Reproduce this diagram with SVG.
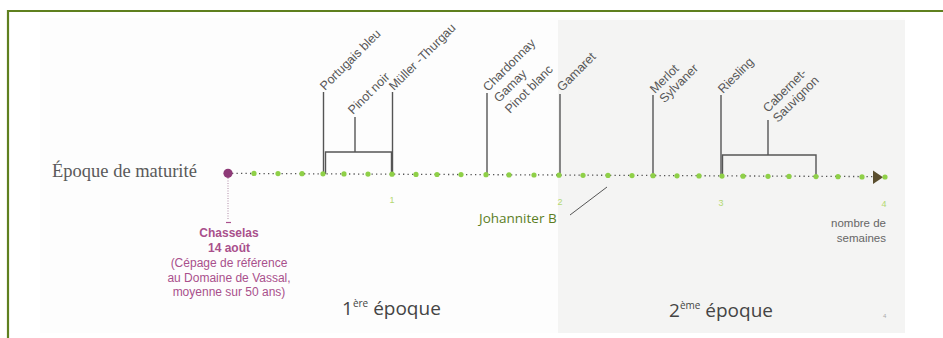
<svg xmlns="http://www.w3.org/2000/svg" width="943" height="338" viewBox="0 0 943 338">
<style>
.lbl{font-family:"Liberation Sans",Arial,sans-serif;font-size:12.5px;fill:#575757}
.ln{stroke:#555;stroke-width:1.4;fill:none}
.dot{fill:#8fd048}
.num{font-family:"Liberation Sans",Arial,sans-serif;font-size:9px;fill:#b3d872;text-anchor:middle}
.ep{font-family:"Open Sans","Liberation Sans",sans-serif;font-size:19px;fill:#444}
.ch{font-family:"Liberation Sans",Arial,sans-serif;font-size:12px;fill:#a9508c;text-anchor:middle}
</style>
<rect width="943" height="338" fill="#ffffff"/>
<g id="background">
<rect x="40" y="18" width="865" height="315" fill="#fdfdfd"/>
<rect x="558" y="20" width="347" height="313" fill="#f4f4f3"/>
</g>
<path d="M8,338 V11 H943" fill="none" stroke="#5f801f" stroke-width="2.2"/>

<g id="axis-title"><text x="52" y="177" font-family="Liberation Serif,'Times New Roman',serif" font-size="18.5" fill="#5a5a5a">Époque de maturité</text></g>

<g id="connectors">
<line x1="232" y1="173.4" x2="873" y2="176.6" stroke="#555" stroke-width="1.3" stroke-dasharray="1.3 3.2"/>
<polygon points="873,170.5 883,177.3 873,184" fill="#5a4e2e"/>
<line x1="228" y1="178" x2="228" y2="220" stroke="#b08aa5" stroke-width="1" stroke-dasharray="1 1.5"/>
<line x1="226" y1="222.5" x2="231" y2="222.5" stroke="#a9508c" stroke-width="1.2"/>
<path class="ln" d="M323.5,92 V174"/>
<path class="ln" d="M325.5,174 V152 H391.5 V174"/>
<path class="ln" d="M355,152 V117"/>
<path class="ln" d="M392.5,92 V174"/>
<path class="ln" d="M487,93 V174.7"/>
<path class="ln" d="M560,94 V175.2"/>
<path class="ln" d="M653,95 V175.7"/>
<path class="ln" d="M721,95 V176.1"/>
<path class="ln" d="M722.5,176 V155 H816 V176.6"/>
<path class="ln" d="M768,155 V120"/>
<line x1="570" y1="215" x2="607" y2="187" stroke="#555" stroke-width="1"/>
</g>

<g id="dots">
<circle cx="228" cy="173.3" r="4.6" fill="#8e3a78"/>
<circle class="dot" cx="254" cy="173.4" r="2.6"/>
<circle class="dot" cx="278" cy="173.6" r="2.6"/>
<circle class="dot" cx="302" cy="173.7" r="2.6"/>
<circle class="dot" cx="323" cy="173.8" r="2.6"/>
<circle class="dot" cx="344" cy="173.9" r="2.6"/>
<circle class="dot" cx="368" cy="174.1" r="2.6"/>
<circle class="dot" cx="392" cy="174.2" r="2.6"/>
<circle class="dot" cx="416" cy="174.4" r="2.6"/>
<circle class="dot" cx="437" cy="174.5" r="2.6"/>
<circle class="dot" cx="461" cy="174.6" r="2.6"/>
<circle class="dot" cx="486" cy="174.7" r="2.6"/>
<circle class="dot" cx="509" cy="174.9" r="2.6"/>
<circle class="dot" cx="534" cy="175.0" r="2.6"/>
<circle class="dot" cx="559" cy="175.2" r="2.6"/>
<circle class="dot" cx="583" cy="175.3" r="2.6"/>
<circle class="dot" cx="608" cy="175.4" r="2.6"/>
<circle class="dot" cx="632" cy="175.6" r="2.6"/>
<circle class="dot" cx="653" cy="175.7" r="2.6"/>
<circle class="dot" cx="677" cy="175.8" r="2.6"/>
<circle class="dot" cx="699" cy="175.9" r="2.6"/>
<circle class="dot" cx="722" cy="176.1" r="2.6"/>
<circle class="dot" cx="743" cy="176.2" r="2.6"/>
<circle class="dot" cx="768" cy="176.3" r="2.6"/>
<circle class="dot" cx="789" cy="176.4" r="2.6"/>
<circle class="dot" cx="816" cy="176.6" r="2.6"/>
<circle class="dot" cx="838" cy="176.7" r="2.6"/>
<circle class="dot" cx="862" cy="176.9" r="2.6"/>
<circle class="dot" cx="885" cy="177.0" r="2.6"/>
</g>

<g id="numbers">
<text class="num" x="392" y="203">1</text>
<text class="num" x="560" y="205">2</text>
<text class="num" x="721" y="206">3</text>
<text class="num" x="884" y="207">4</text>
</g>

<g id="n-portugais"><text class="lbl" transform="translate(325,91) rotate(-45)">Portugais bleu</text></g>
<g id="n-pinotnoir"><text class="lbl" transform="translate(353,115) rotate(-45)">Pinot noir</text></g>
<g id="n-muller"><text class="lbl" transform="translate(394,91) rotate(-45)">Müller -Thurgau</text></g>
<g id="n-chardonnay"><text class="lbl" transform="translate(488,92) rotate(-45)">Chardonnay<tspan x="0" dy="15.5">Gamay</tspan><tspan x="0" dy="15.5">Pinot blanc</tspan></text></g>
<g id="n-gamaret"><text class="lbl" transform="translate(562,92) rotate(-45)">Gamaret</text></g>
<g id="n-merlot"><text class="lbl" transform="translate(655,94) rotate(-45)">Merlot<tspan x="0" dy="13.5">Sylvaner</tspan></text></g>
<g id="n-riesling"><text class="lbl" transform="translate(723,94) rotate(-45)">Riesling</text></g>
<g id="n-cabernet"><text class="lbl" transform="translate(768,113) rotate(-45)">Cabernet-<tspan x="0" dy="14">Sauvignon</tspan></text></g>

<g id="n-chasselas">
<text class="ch" x="229" y="237" font-weight="bold">Chasselas</text>
<text class="ch" x="229" y="252" font-weight="bold">14 août</text>
<text class="ch" x="229" y="267">(Cépage de référence</text>
<text class="ch" x="229" y="282">au Domaine de Vassal,</text>
<text class="ch" x="229" y="296">moyenne sur 50 ans)</text>
</g>

<g id="n-johanniter"><text x="479" y="223" font-family="'Open Sans','Liberation Sans',sans-serif" font-size="13.5" fill="#5b7d1f">Johanniter B</text></g>

<g id="n-semaines">
<text x="886" y="227" font-family="'Liberation Sans',Arial,sans-serif" font-size="11.5" fill="#666" text-anchor="end">nombre de</text>
<text x="886" y="242" font-family="'Liberation Sans',Arial,sans-serif" font-size="11.5" fill="#666" text-anchor="end">semaines</text>
</g>

<g id="epoque1"><text class="ep" x="342" y="315">1<tspan font-size="10" dy="-8">ère</tspan><tspan dy="8"> époque</tspan></text></g>
<g id="epoque2"><text class="ep" x="669" y="317">2<tspan font-size="10" dy="-8">ème</tspan><tspan dy="8"> époque</tspan></text></g>
<text x="883" y="318" font-family="'Liberation Sans',sans-serif" font-size="6" fill="#aaa">4</text>
</svg>
